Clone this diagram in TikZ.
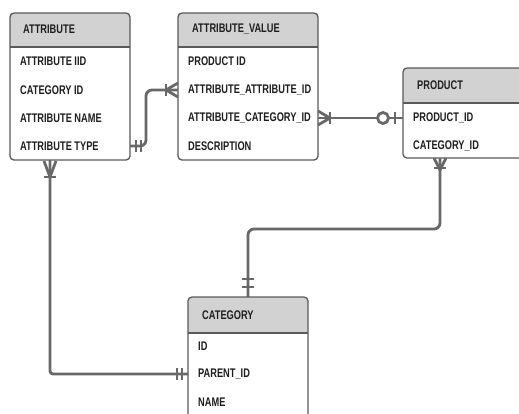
\documentclass[tikz,border=0pt]{standalone}
\usepackage{fontspec}
\setmainfont{Liberation Sans}[FakeStretch=0.74]
\usetikzlibrary{calc,positioning}

\definecolor{linegray}{HTML}{686868}
\definecolor{boxgray}{HTML}{5A5A5A}
\definecolor{headgray}{HTML}{D2D2D2}
\definecolor{txtgray}{HTML}{1E1E1E}

\tikzset{
    tbl/.style={draw=none, inner sep=0, outer sep=0, anchor=north west},
    boxline/.style={draw=boxgray, line width=1.3},
    head/.style={anchor=west, inner sep=0, text=txtgray, font=\fontsize{12.5}{14}\selectfont\bfseries},
    field/.style={anchor=west, inner sep=0, text=txtgray, font=\fontsize{12.5}{14}\selectfont\bfseries},
    rel/.style={draw=linegray, line width=2.8}
}

\begin{document}
\begin{tikzpicture}[x=1pt, y=-1pt]
        \useasboundingbox (0,0) rectangle (519,413);
        \clip (0,0) rectangle (519,413);

        % ATTRIBUTE table
        \node[tbl, minimum width=120, minimum height=147] (attr) at (10,13) {};
        \fill[white, rounded corners=4] (attr.north west) rectangle (attr.south east);
        \fill[headgray] ($(attr.north west)+(0,34)$) [rounded corners=4] -- (attr.north west) -- (attr.north east) [sharp corners] -- ($(attr.north east)+(0,34)$) -- cycle;
        \draw[boxline] ($(attr.north west)+(0,34)$) -- ($(attr.north east)+(0,34)$);
        \draw[boxline, rounded corners=4] (attr.north west) rectangle (attr.south east);
        \node[head] (attr-title) at ($(attr.north west)+(13,16)$) {ATTRIBUTE};
        \node[field] (attr-iid) at ($(attr.north west)+(10,48)$) {ATTRIBUTE IID};
        \node[field] (attr-cid) at ($(attr.north west)+(10,77)$) {CATEGORY ID};
        \node[field] (attr-name) at ($(attr.north west)+(10,105)$) {ATTRIBUTE NAME};
        \node[field] (attr-type) at ($(attr.north west)+(10,133)$) {ATTRIBUTE TYPE};

        % ATTRIBUTE_VALUE table
        \node[tbl, minimum width=140, minimum height=147] (av) at (178,13) {};
        \fill[white, rounded corners=4] (av.north west) rectangle (av.south east);
        \fill[headgray] ($(av.north west)+(0,34)$) [rounded corners=4] -- (av.north west) -- (av.north east) [sharp corners] -- ($(av.north east)+(0,34)$) -- cycle;
        \draw[boxline] ($(av.north west)+(0,34)$) -- ($(av.north east)+(0,34)$);
        \draw[boxline, rounded corners=4] (av.north west) rectangle (av.south east);
        \node[head] (av-title) at ($(av.north west)+(14,16)$) {ATTRIBUTE\_VALUE};
        \node[field] (av-pid) at ($(av.north west)+(10,48)$) {PRODUCT ID};
        \node[field] (av-aid) at ($(av.north west)+(10,77)$) {ATTRIBUTE\_ATTRIBUTE\_ID};
        \node[field] (av-cid) at ($(av.north west)+(10,105)$) {ATTRIBUTE\_CATEGORY\_ID};
        \node[field] (av-desc) at ($(av.north west)+(10,133)$) {DESCRIPTION};

        % PRODUCT table
        \node[tbl, minimum width=130, minimum height=90] (prod) at (403,68) {};
        \fill[white, rounded corners=4] (prod.north west) rectangle (prod.south east);
        \fill[headgray] ($(prod.north west)+(0,35)$) [rounded corners=4] -- (prod.north west) -- (prod.north east) [sharp corners] -- ($(prod.north east)+(0,35)$) -- cycle;
        \draw[boxline] ($(prod.north west)+(0,35)$) -- ($(prod.north east)+(0,35)$);
        \draw[boxline, rounded corners=4] (prod.north west) rectangle (prod.south east);
        \node[head] (prod-title) at ($(prod.north west)+(14,17)$) {PRODUCT};
        \node[field] (prod-pid) at ($(prod.north west)+(10,50)$) {PRODUCT\_ID};
        \node[field] (prod-cid) at ($(prod.north west)+(10,78)$) {CATEGORY\_ID};

        % CATEGORY table
        \node[tbl, minimum width=120, minimum height=130] (cat) at (188,297) {};
        \fill[white, rounded corners=4] (cat.north west) rectangle (cat.south east);
        \fill[headgray] ($(cat.north west)+(0,36)$) [rounded corners=4] -- (cat.north west) -- (cat.north east) [sharp corners] -- ($(cat.north east)+(0,36)$) -- cycle;
        \draw[boxline] ($(cat.north west)+(0,36)$) -- ($(cat.north east)+(0,36)$);
        \draw[boxline, rounded corners=4] (cat.north west) rectangle (cat.south east);
        \node[head] (cat-title) at ($(cat.north west)+(14,18)$) {CATEGORY};
        \node[field] (cat-id) at ($(cat.north west)+(10,49)$) {ID};
        \node[field] (cat-pid) at ($(cat.north west)+(10,77)$) {PARENT\_ID};
        \node[field] (cat-name) at ($(cat.north west)+(10,105)$) {NAME};

        % ATTRIBUTE -> ATTRIBUTE_VALUE
        \draw[rel, rounded corners=6] (attr.east |- attr-type) -- ++(16,0) |- (av.west |- av-aid);
        \draw[rel] ($(attr.east |- attr-type)+(6,-6)$) -- ++(0,12);
        \draw[rel] ($(attr.east |- attr-type)+(11,-6)$) -- ++(0,12);
        \draw[rel] ($(av.west |- av-aid)+(-12,0)$) -- ($(av.west |- av-aid)+(0,-7)$);
        \draw[rel] ($(av.west |- av-aid)+(-12,0)$) -- ($(av.west |- av-aid)+(0,7)$);
        \draw[rel] ($(av.west |- av-aid)+(-12,-6)$) -- ++(0,12);

        % ATTRIBUTE_VALUE -> PRODUCT
        \draw[rel] (av.east |- av-cid) -- (prod.west |- prod-pid);
        \draw[rel] ($(av.east |- av-cid)+(0,-7)$) -- ($(av.east |- av-cid)+(12,0)$) -- ($(av.east |- av-cid)+(0,7)$);
        \draw[rel] ($(av.east |- av-cid)+(12,-6)$) -- ++(0,12);
        \draw[rel, fill=white] ($(prod.west |- prod-pid)+(-20,0)$) circle (5.5);
        \draw[rel] ($(prod.west |- prod-pid)+(-8,-6)$) -- ++(0,12);

        % PRODUCT -> CATEGORY
        \coordinate (prod-foot) at ($(prod.south west)+(37,0)$);
        \draw[rel, rounded corners=6] (prod-foot) -- ++(0,71) -| (cat.north);
        \draw[rel] ($(prod-foot)+(-6,0)$) -- ($(prod-foot)+(0,12)$) -- ($(prod-foot)+(6,0)$);
        \draw[rel] ($(prod-foot)+(-6,10)$) -- ++(12,0);
        \draw[rel] ($(cat.north)+(-6,-18)$) -- ++(12,0);
        \draw[rel] ($(cat.north)+(-6,-10)$) -- ++(12,0);

        % ATTRIBUTE -> CATEGORY
        \coordinate (attr-foot) at ($(attr.south west)+(40,0)$);
        \draw[rel, rounded corners=3] (attr-foot) |- (cat.west |- cat-pid);
        \draw[rel] ($(attr-foot)+(-6,1)$) -- ($(attr-foot)+(0,17)$) -- ($(attr-foot)+(6,1)$);
        \draw[rel] ($(attr-foot)+(-6,17)$) -- ++(12,0);
        \draw[rel] ($(cat.west |- cat-pid)+(-11,-6)$) -- ++(0,12);
        \draw[rel] ($(cat.west |- cat-pid)+(-6,-6)$) -- ++(0,12);

    \end{tikzpicture}
\end{document}
